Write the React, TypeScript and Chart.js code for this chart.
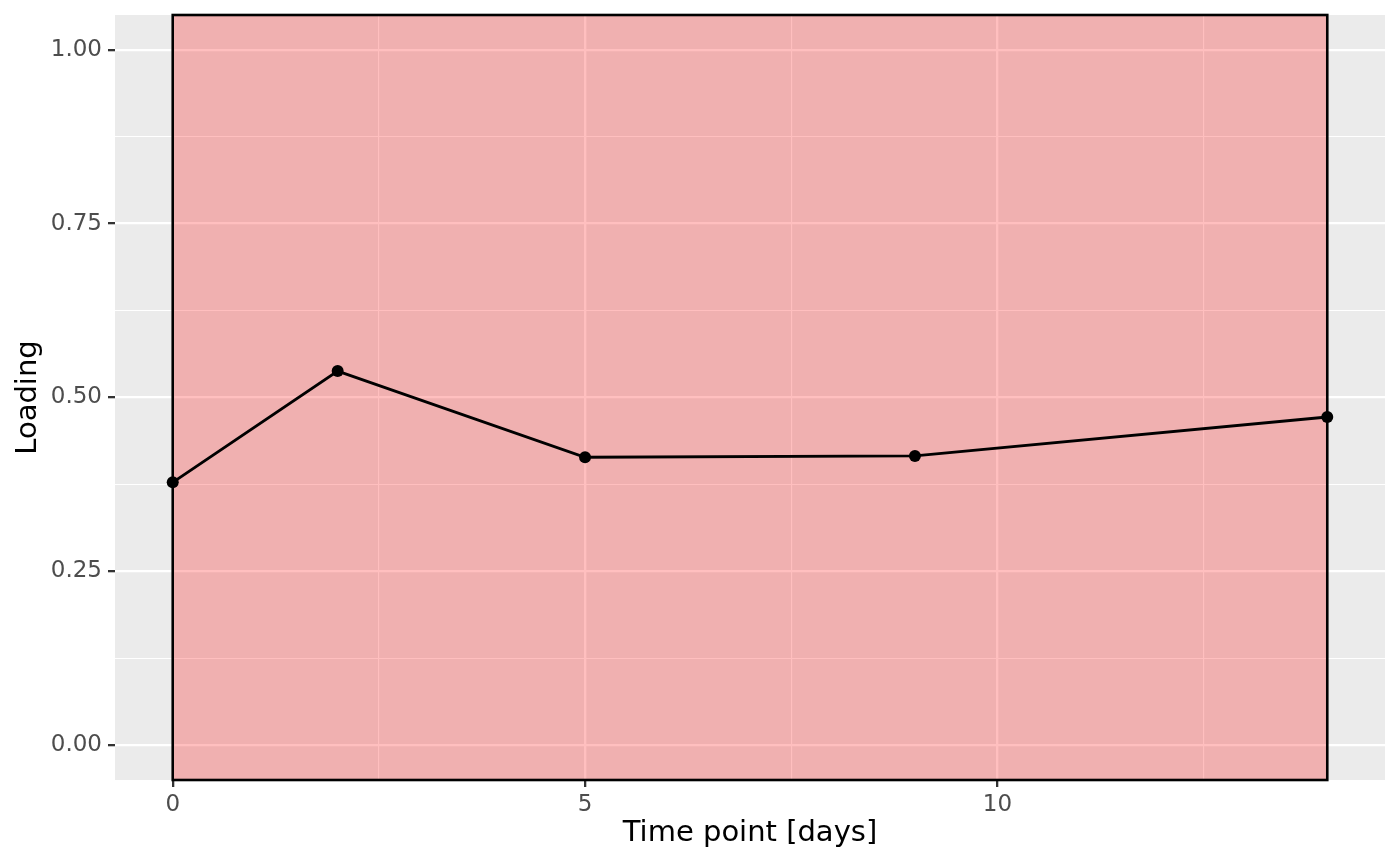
import { useEffect, useRef } from "react";
import { Chart, registerables } from "chart.js";

Chart.register(...registerables);

const timePoints = [0, 2, 5, 9, 14];
const loadings = [0.378, 0.538, 0.414, 0.416, 0.472];
const shadeRange = [0, 14];
const xMajorTicks = [0, 5, 10];
const xMinorTicks = [2.5, 7.5, 12.5];
const yMajorTicks = [0, 0.25, 0.5, 0.75, 1.0];
const yMinorTicks = [0.125, 0.375, 0.625, 0.875];
const xLimits = [-0.7, 14.7];
const yLimits = [-0.05, 1.05];

const isIn = (arr: number[], v: number) => arr.some((a) => Math.abs(a - v) < 1e-9);

const panelPlugin = {
  id: "ggPanel",
  beforeDraw(chart: any) {
    const { ctx, chartArea } = chart;
    ctx.save();
    ctx.fillStyle = "#EBEBEB";
    ctx.fillRect(chartArea.left, chartArea.top, chartArea.right - chartArea.left, chartArea.bottom - chartArea.top);
    ctx.restore();
  },
  beforeDatasetsDraw(chart: any) {
    const { ctx, chartArea, scales } = chart;
    const x0 = scales.x.getPixelForValue(shadeRange[0]);
    const x1 = scales.x.getPixelForValue(shadeRange[1]);
    ctx.save();
    ctx.fillStyle = "rgba(254,17,17,0.27)";
    ctx.fillRect(x0, chartArea.top, x1 - x0, chartArea.bottom - chartArea.top);
    ctx.strokeStyle = "#000000";
    ctx.lineWidth = 2.6;
    ctx.strokeRect(x0, chartArea.top, x1 - x0, chartArea.bottom - chartArea.top);
    ctx.restore();
  },
};

export default function App() {
  const ref = useRef<HTMLCanvasElement | null>(null);

  useEffect(() => {
    if (!ref.current) return;
    const chart = new Chart(ref.current, {
      type: "scatter",
      data: {
        datasets: [
          {
            data: timePoints.map((t, i) => ({ x: t, y: loadings[i] })),
            showLine: true,
            borderColor: "#000000",
            backgroundColor: "#000000",
            borderWidth: 2.9,
            pointRadius: 6,
            pointHoverRadius: 6,
            pointBorderWidth: 0,
            tension: 0,
          },
        ],
      },
      plugins: [panelPlugin],
      options: {
        animation: false,
        responsive: true,
        maintainAspectRatio: false,
        devicePixelRatio: 1,
        layout: { padding: { top: 15, right: 15, left: 0, bottom: 0 } },
        plugins: {
          legend: { display: false },
          tooltip: { enabled: false },
        },
        scales: {
          x: {
            type: "linear",
            min: xLimits[0],
            max: xLimits[1],
            afterBuildTicks: (scale: any) => {
              scale.ticks = [...xMajorTicks, ...xMinorTicks].sort((a, b) => a - b).map((v) => ({ value: v }));
            },
            afterFit: (scale: any) => {
              scale.height = 85;
              scale.paddingLeft = 0;
              scale.paddingRight = 0;
            },
            border: { display: false },
            grid: {
              color: "#FFFFFF",
              lineWidth: (c: any) => (isIn(xMajorTicks, c.tick?.value) ? 2.3 : 1.1),
              drawTicks: true,
              tickLength: 7,
              tickWidth: 2.3,
              tickColor: (c: any) => (isIn(xMajorTicks, c.tick?.value) ? "#333333" : "rgba(0,0,0,0)"),
            },
            ticks: {
              autoSkip: false,
              maxRotation: 0,
              padding: 4,
              color: "#4D4D4D",
              font: { family: "DejaVu Sans", size: 23 },
              callback: (v: any) => (isIn(xMajorTicks, Number(v)) ? String(v) : ""),
            },
            title: {
              display: true,
              text: "Time point [days]",
              color: "#000000",
              font: { family: "DejaVu Sans", size: 29 },
              padding: { top: 0, bottom: 14 },
            },
          },
          y: {
            type: "linear",
            min: yLimits[0],
            max: yLimits[1],
            afterBuildTicks: (scale: any) => {
              scale.ticks = [...yMajorTicks, ...yMinorTicks].sort((a, b) => a - b).map((v) => ({ value: v }));
            },
            afterFit: (scale: any) => {
              scale.width = 115;
              scale.paddingTop = 0;
              scale.paddingBottom = 0;
            },
            border: { display: false },
            grid: {
              color: "#FFFFFF",
              lineWidth: (c: any) => (isIn(yMajorTicks, c.tick?.value) ? 2.3 : 1.1),
              drawTicks: true,
              tickLength: 7,
              tickWidth: 2.3,
              tickColor: (c: any) => (isIn(yMajorTicks, c.tick?.value) ? "#333333" : "rgba(0,0,0,0)"),
            },
            ticks: {
              autoSkip: false,
              padding: 6,
              color: "#4D4D4D",
              font: { family: "DejaVu Sans", size: 23 },
              callback: (v: any) => (isIn(yMajorTicks, Number(v)) ? Number(v).toFixed(2) : ""),
            },
            title: {
              display: true,
              text: "Loading",
              color: "#000000",
              font: { family: "DejaVu Sans", size: 29 },
              padding: { top: 11, bottom: 0 },
            },
          },
        },
      },
    });
    return () => chart.destroy();
  }, []);

  return (
    <div style={{ position: "fixed", left: 0, top: 0, width: 1400, height: 865, background: "#FFFFFF" }}>
      <canvas ref={ref} />
    </div>
  );
}
